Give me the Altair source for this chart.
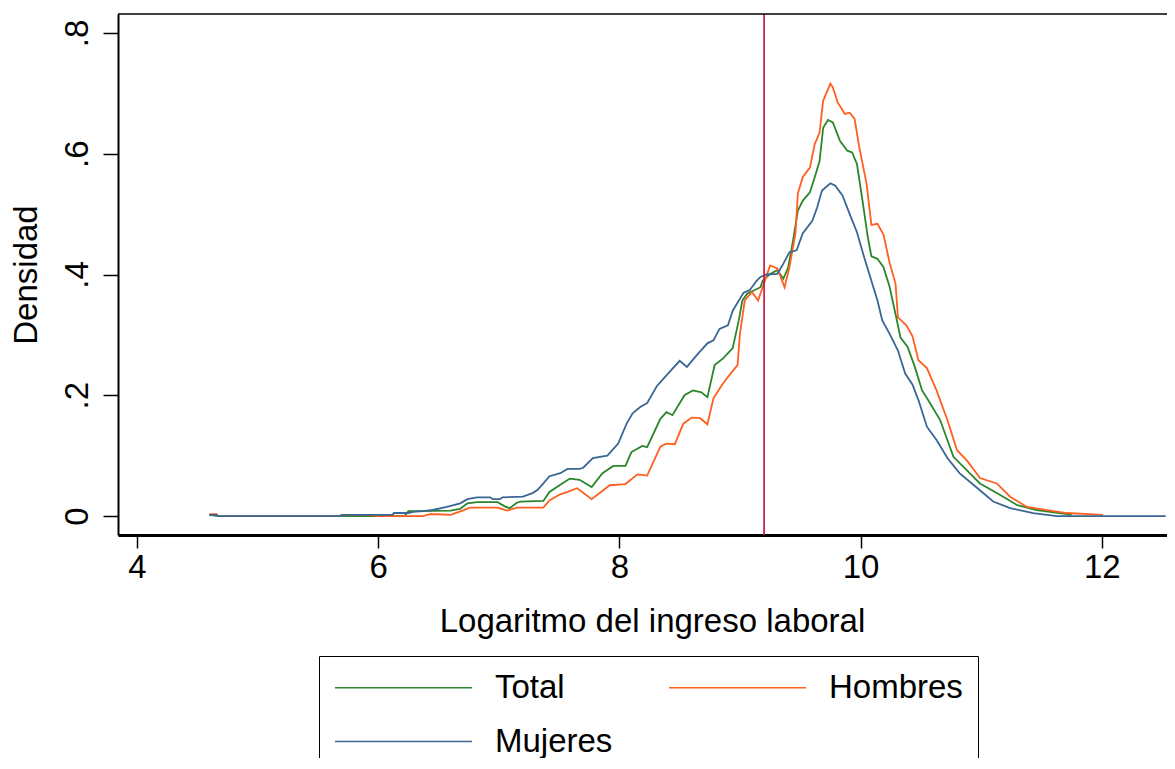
import altair as alt
import pandas as pd

# ---- data ----
total_x = [4.60, 4.67, 6.22, 6.25, 6.32, 6.60, 6.68, 6.74, 6.82, 6.99, 7.05, 7.09, 7.15, 7.18, 7.37,
           7.42, 7.51, 7.59, 7.67, 7.77, 7.86, 7.95, 8.05, 8.10, 8.19, 8.23, 8.34, 8.39, 8.44, 8.54,
           8.61, 8.68, 8.73, 8.79, 8.86, 8.94, 8.99, 9.02, 9.06, 9.11, 9.17, 9.19, 9.25, 9.31, 9.36,
           9.40, 9.44, 9.48, 9.52, 9.58, 9.62, 9.66, 9.69, 9.73, 9.77, 9.83, 9.89, 9.93, 9.97, 10.02,
           10.06, 10.09, 10.14, 10.19, 10.24, 10.30, 10.33, 10.39, 10.45, 10.51, 10.56, 10.66, 10.77,
           10.88, 10.99, 11.13, 11.30, 11.46, 11.68, 11.75]
total_y = [0.002, 0.0, 0.0, 0.008, 0.008, 0.009, 0.012, 0.021, 0.023, 0.023, 0.016, 0.013, 0.022, 0.024, 0.025,
           0.040, 0.052, 0.062, 0.060, 0.048, 0.071, 0.083, 0.083, 0.106, 0.116, 0.114, 0.161, 0.172, 0.167, 0.200,
           0.208, 0.205, 0.197, 0.250, 0.261, 0.278, 0.324, 0.357, 0.368, 0.373, 0.379, 0.390, 0.401, 0.407, 0.393,
           0.412, 0.456, 0.506, 0.522, 0.536, 0.561, 0.588, 0.643, 0.656, 0.652, 0.621, 0.605, 0.602, 0.583, 0.517,
           0.462, 0.430, 0.426, 0.412, 0.380, 0.325, 0.296, 0.280, 0.247, 0.208, 0.192, 0.159, 0.098,
           0.076, 0.054, 0.038, 0.018, 0.010, 0.004, 0.002]

hombres_x = [4.60, 4.66, 4.67, 5.68, 5.70, 5.89, 6.01, 6.37, 6.43, 6.49, 6.60, 6.70, 6.76, 6.99, 7.07,
             7.15, 7.37, 7.42, 7.51, 7.57, 7.65, 7.77, 7.92, 8.05, 8.15, 8.23, 8.34, 8.39, 8.46, 8.53,
             8.60, 8.67, 8.73, 8.78, 8.86, 8.93, 8.98, 9.00, 9.04, 9.10, 9.15, 9.19, 9.25, 9.31, 9.37,
             9.41, 9.46, 9.48, 9.52, 9.58, 9.62, 9.66, 9.69, 9.75, 9.77, 9.81, 9.87, 9.91, 9.95, 9.99,
             10.05, 10.09, 10.14, 10.19, 10.24, 10.29, 10.31, 10.38, 10.43, 10.48, 10.55, 10.63, 10.72,
             10.80, 10.89, 10.99, 11.13, 11.24, 11.38, 11.57, 11.71, 12.01]
hombres_y = [0.003, 0.003, 0.0, 0.0, 0.002, 0.002, 0.0, 0.0, 0.003, 0.003, 0.002, 0.009, 0.014, 0.014, 0.009,
             0.014, 0.014, 0.026, 0.036, 0.040, 0.046, 0.028, 0.051, 0.053, 0.069, 0.067, 0.115, 0.120, 0.119, 0.153,
             0.163, 0.162, 0.152, 0.195, 0.220, 0.238, 0.250, 0.302, 0.357, 0.371, 0.357, 0.380, 0.415, 0.410, 0.379,
             0.412, 0.468, 0.534, 0.561, 0.577, 0.616, 0.635, 0.688, 0.716, 0.710, 0.685, 0.666, 0.668, 0.658, 0.610,
             0.550, 0.482, 0.484, 0.466, 0.420, 0.385, 0.329, 0.316, 0.298, 0.258, 0.245, 0.208, 0.159,
             0.109, 0.090, 0.063, 0.054, 0.032, 0.015, 0.009, 0.005, 0.002]

mujeres_x = [4.60, 4.66, 4.67, 5.68, 5.70, 6.12, 6.13, 6.25, 6.29, 6.37, 6.45, 6.57, 6.68, 6.74, 6.82,
             6.93, 6.95, 7.01, 7.03, 7.20, 7.28, 7.32, 7.37, 7.42, 7.51, 7.57, 7.67, 7.70, 7.78, 7.90,
             7.99, 8.06, 8.11, 8.17, 8.23, 8.31, 8.39, 8.50, 8.56, 8.64, 8.73, 8.78, 8.83, 8.90, 8.94,
             9.03, 9.08, 9.14, 9.17, 9.22, 9.31, 9.36, 9.41, 9.47, 9.52, 9.60, 9.64, 9.68, 9.75, 9.79,
             9.85, 9.91, 9.97, 10.02, 10.08, 10.14, 10.18, 10.24, 10.31, 10.37, 10.43, 10.48, 10.55,
             10.63, 10.72, 10.82, 10.97, 11.10, 11.24, 11.43, 11.63, 12.53]
mujeres_y = [0.002, 0.002, 0.0, 0.0, 0.002, 0.002, 0.005, 0.005, 0.007, 0.008, 0.010, 0.015, 0.021, 0.028, 0.031,
             0.031, 0.028, 0.028, 0.031, 0.032, 0.038, 0.043, 0.054, 0.066, 0.071, 0.078, 0.078, 0.080, 0.096, 0.100,
             0.120, 0.153, 0.170, 0.180, 0.187, 0.215, 0.233, 0.257, 0.247, 0.266, 0.286, 0.291, 0.310, 0.316, 0.340,
             0.370, 0.374, 0.390, 0.396, 0.400, 0.401, 0.418, 0.437, 0.440, 0.468, 0.489, 0.511, 0.539, 0.551, 0.547,
             0.531, 0.500, 0.470, 0.435, 0.396, 0.357, 0.324, 0.302, 0.274, 0.236, 0.218, 0.192, 0.148,
             0.126, 0.096, 0.071, 0.046, 0.024, 0.013, 0.005, 0.0, 0.0]

series_names = ["Total", "Hombres", "Mujeres"]
series_colors = ["#2a862a", "#ff5f1f", "#3a6694"]
vline_x = [9.2]

x_ticks = [4, 6, 8, 10, 12]
y_ticks = [0, 0.2, 0.4, 0.6, 0.8]

FONT = "Liberation Sans"

rows = []
for name, xs, ys in [("Total", total_x, total_y), ("Hombres", hombres_x, hombres_y), ("Mujeres", mujeres_x, mujeres_y)]:
    for i, (xv, yv) in enumerate(zip(xs, ys)):
        rows.append({"serie": name, "x": xv, "y": yv, "ord": i})
df = pd.DataFrame(rows)

W, H = 1049, 521
xscale = alt.Scale(domain=[3.8425, 12.541], nice=False, zero=False)
yscale = alt.Scale(domain=[-0.0314, 0.8314], nice=False, zero=False)
cscale = alt.Scale(domain=series_names, range=series_colors)

label_expr = "datum.value == 0 ? '0' : replace(format(datum.value, '.1f'), '0.', '.')"

xaxis = alt.Axis(title="Logaritmo del ingreso laboral", values=x_ticks, format="d",
                 grid=False, domainColor="black", domainWidth=3, tickColor="black", tickWidth=1.5,
                 tickSize=13, labelFont=FONT, labelFontSize=33, labelColor="black", labelPadding=3,
                 titleFont=FONT, titleFontSize=33, titleFontWeight="normal", titleColor="black",
                 titlePadding=21, titleX=534)
yaxis = alt.Axis(title="Densidad", values=y_ticks, labelExpr=label_expr,
                 grid=False, domainColor="black", domainWidth=2, tickColor="black", tickWidth=1.5,
                 tickSize=15, labelFont=FONT, labelFontSize=33, labelColor="black", labelPadding=9,
                 labelAngle=270, labelAlign="center", labelBaseline="bottom",
                 titleFont=FONT, titleFontSize=33, titleFontWeight="normal", titleColor="black",
                 titlePadding=18)

legend = alt.Legend(title=None, orient="none", legendX=201, legendY=642, columns=2, direction="horizontal",
                    symbolType="stroke", symbolSize=18769, symbolStrokeWidth=1.5,
                    labelFont=FONT, labelFontSize=33, labelColor="black", labelOffset=22, labelLimit=0,
                    clipHeight=33, rowPadding=20, columnPadding=55, padding=15,
                    strokeColor="black", fillColor="white")

layers = []
for name in series_names:
    layers.append(
        alt.Chart(df).transform_filter(alt.datum.serie == name)
        .mark_line(strokeWidth=1.8, clip=True, interpolate="linear")
        .encode(
            x=alt.X("x:Q", scale=xscale, axis=xaxis),
            y=alt.Y("y:Q", scale=yscale, axis=yaxis),
            color=alt.Color("serie:N", scale=cscale, legend=legend),
            order="ord:Q",
        )
    )

vline = alt.Chart(pd.DataFrame({"x": vline_x})).mark_rule(color="#c8184a", strokeWidth=1.7).encode(
    x=alt.X("x:Q", scale=xscale, axis=xaxis)
)
topline = alt.Chart(pd.DataFrame({"x": vline_x})).mark_rule(color="black", strokeWidth=1.5).encode(
    x=alt.value(0), x2=alt.value(W), y=alt.value(0)
)

chart = alt.layer(*layers, vline, topline).properties(
    width=W, height=H,
    autosize=alt.AutoSizeParams(type="none"),
    padding={"left": 110, "top": 6, "right": 0, "bottom": 223},
    background="white",
).configure_view(stroke=None)

chart.save("out.html", embed_options={"renderer": "svg", "actions": False})
